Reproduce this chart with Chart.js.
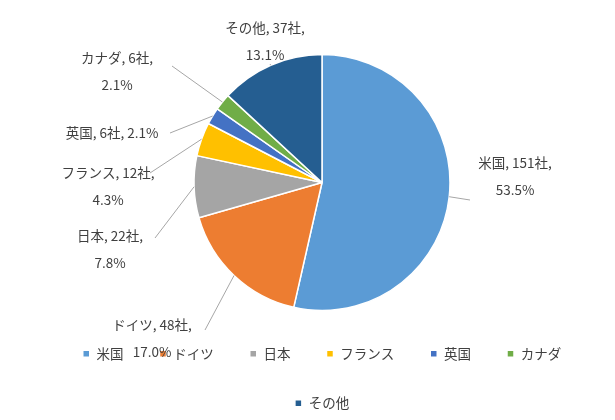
<!DOCTYPE html>
<html><head><meta charset="utf-8">
<script src="https://cdn.jsdelivr.net/npm/chart.js@4"></script>
<style>body{margin:0;background:#fff}#w{width:615px;height:420px}</style>
</head><body><div id="w"><canvas id="c"></canvas></div>
<script>
const categories=['米国','ドイツ','日本','フランス','英国','カナダ','その他'];
const companies=[151,48,22,12,6,6,37];
const percents=['53.5%','17.0%','7.8%','4.3%','2.1%','2.1%','13.1%'];
const colors=['#5B9BD5','#ED7D31','#A5A5A5','#FFC000','#4472C4','#70AD47','#255E91'];
const labelPos=[
 {x:515,y:163,two:true,lx:470,ly:200},
 {x:152,y:325,two:true,lx:205,ly:330},
 {x:110,y:236,two:true,lx:155,ly:238},
 {x:108,y:173,two:true,lx:150,ly:173},
 {x:112,y:133,two:false,lx:170,ly:133},
 {x:117,y:58,two:true,lx:172,ly:66},
 {x:265,y:28,two:true,lx:270,ly:64}
];
const labelPlugin={id:'lbl',afterDatasetsDraw(ch){
 const ctx=ch.ctx,meta=ch.getDatasetMeta(0);
 ctx.save();ctx.font='13.5px "Noto Sans CJK JP"';ctx.fillStyle='#404040';ctx.textAlign='center';ctx.textBaseline='middle';
 meta.data.forEach((a,i)=>{
  const p=labelPos[i];const ang=(a.startAngle+a.endAngle)/2;
  const ex=a.x+Math.cos(ang)*a.outerRadius, ey=a.y+Math.sin(ang)*a.outerRadius;
  ctx.strokeStyle='#A6A6A6';ctx.lineWidth=1;ctx.beginPath();ctx.moveTo(ex,ey);ctx.lineTo(p.lx,p.ly);ctx.stroke();
  const t1=categories[i]+', '+companies[i]+'社,';
  if(p.two){ctx.fillText(t1,p.x,p.y);ctx.fillText(percents[i],p.x,p.y+27);}
  else ctx.fillText(t1+' '+percents[i],p.x,p.y);
 });
 ctx.restore();}};
new Chart(document.getElementById('c'),{type:'pie',
 data:{labels:categories,datasets:[{data:companies,backgroundColor:colors,borderColor:'#fff',borderWidth:1.5,radius:128}]},
 options:{responsive:true,maintainAspectRatio:false,animation:false,
  layout:{padding:{left:29,top:54}},
  plugins:{tooltip:{enabled:false},
   legend:{position:'bottom',labels:{usePointStyle:true,pointStyle:'rect',boxWidth:7,boxHeight:7,padding:36,color:'#404040',font:{family:'"Noto Sans CJK JP"',size:13.5}}}}},
 plugins:[labelPlugin]});
</script></body></html>
